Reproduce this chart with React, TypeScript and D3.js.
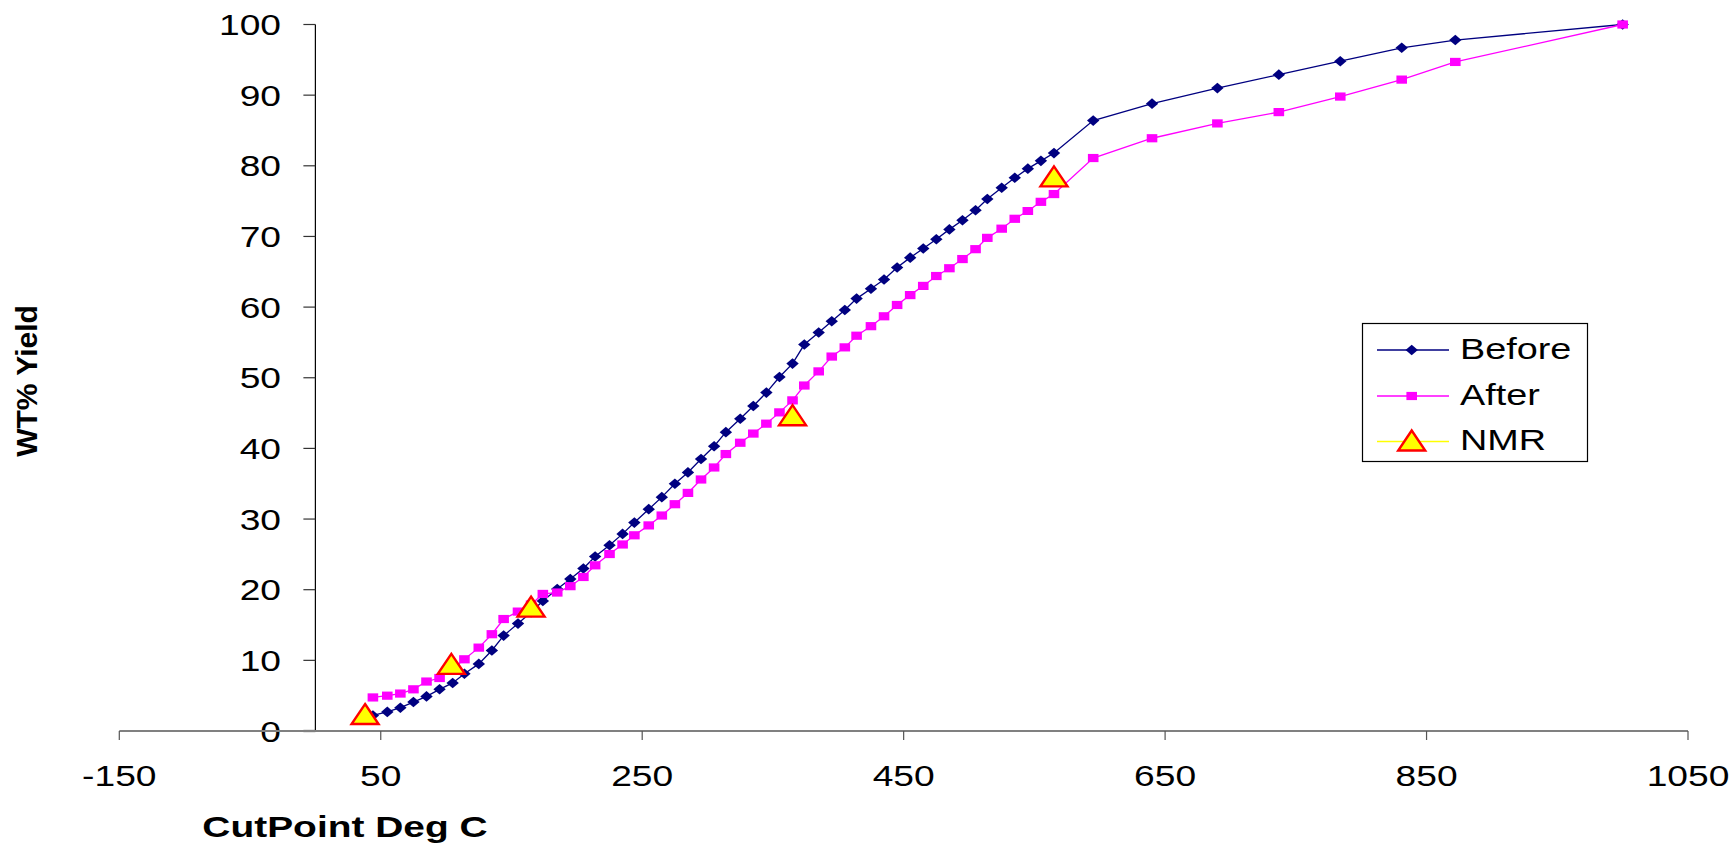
import React from "react";
import * as d3 from "d3";

// Cut points (deg C) shared by the Before / After distillation curves
const cutPoints = [
  44, 55, 65, 75, 85, 95, 105, 114, 125, 135, 144, 155, 165, 174, 185, 195, 205, 214,
  225, 235, 244, 255, 265, 275, 285, 295, 305, 314, 325, 335, 345, 355, 365, 374, 385,
  395, 405, 414, 425, 435, 445, 455, 465, 475, 485, 495, 505, 514, 525, 535, 545, 555,
  565, 595, 640, 690, 737, 784, 831, 872, 1000,
];

const beforeYield = [
  2.2, 2.7, 3.3, 4.1, 4.9, 5.9, 6.8, 8.1, 9.5, 11.4, 13.5, 15.2, 16.8, 18.4, 20.1, 21.5,
  23.0, 24.7, 26.3, 27.9, 29.5, 31.4, 33.1, 35.0, 36.6, 38.5, 40.3, 42.3, 44.2, 46.0, 47.9,
  50.1, 52.0, 54.7, 56.4, 58.0, 59.6, 61.2, 62.6, 63.9, 65.6, 67.0, 68.3, 69.6, 71.0, 72.3,
  73.7, 75.3, 76.9, 78.3, 79.6, 80.7, 81.8, 86.4, 88.8, 91.0, 92.9, 94.8, 96.7, 97.8, 100,
];

const afterYield = [
  4.75, 5.0, 5.3, 5.9, 7.0, 7.5, 8.8, 10.15, 11.8, 13.7, 15.85, 16.9, 17.9, 19.4, 19.6,
  20.5, 21.8, 23.45, 25.05, 26.4, 27.7, 29.1, 30.5, 32.1, 33.7, 35.6, 37.3, 39.2, 40.8, 42.1,
  43.5, 45.1, 46.8, 48.9, 50.9, 53.0, 54.3, 55.95, 57.3, 58.7, 60.3, 61.7, 63.0, 64.4, 65.5,
  66.8, 68.2, 69.8, 71.1, 72.5, 73.6, 74.9, 76.0, 81.1, 83.9, 86.0, 87.6, 89.8, 92.2, 94.7, 100,
];

const nmrCutPoints = [38, 104, 165, 365, 565];
const nmrYield = [2.4, 9.5, 17.6, 44.7, 78.5];

const xTicks = [-150, 50, 250, 450, 650, 850, 1050];
const yTicks = [0, 10, 20, 30, 40, 50, 60, 70, 80, 90, 100];

const seriesNames = ["Before", "After", "NMR"];

const W = 1735;
const H = 845;
const FONT = "'Liberation Sans', Arial, Helvetica, sans-serif";
const NAVY = "#000080";
const MAGENTA = "#FF00FF";
const TEXT_STRETCH = 1.26;

const x = d3.scaleLinear().domain([-150, 1050]).range([119.3, 1688]);
const y = d3.scaleLinear().domain([0, 100]).range([731, 24.5]);

type Pt = [number, number];
const beforePts: Pt[] = cutPoints.map((c, i) => [c, beforeYield[i]]);
const afterPts: Pt[] = cutPoints.map((c, i) => [c, afterYield[i]]);
const nmrPts: Pt[] = nmrCutPoints.map((c, i) => [c, nmrYield[i]]);

const line = d3
  .line<Pt>()
  .x((d) => x(d[0]))
  .y((d) => y(d[1]));

// marker outlines, centred on the data point
const diamond = (cx: number, cy: number) =>
  `M${cx},${cy - 5.3}L${cx + 6.2},${cy}L${cx},${cy + 5.3}L${cx - 6.2},${cy}Z`;
const square = (cx: number, cy: number) =>
  `M${cx - 5.3},${cy - 4.1}h10.6v8.2h-10.6Z`;
const triangle = (cx: number, cy: number) =>
  `M${cx},${cy - 10}L${cx + 13.5},${cy + 10}L${cx - 13.5},${cy + 10}Z`;

function SText(props: {
  x: number;
  y: number;
  anchor?: "start" | "middle" | "end";
  size?: number;
  weight?: string;
  sx?: number;
  children: React.ReactNode;
}) {
  const { x: tx, y: ty, anchor = "start", size = 29.5, weight = "normal", sx = TEXT_STRETCH } = props;
  return (
    <text
      transform={`translate(${tx},${ty}) scale(${sx},1)`}
      textAnchor={anchor}
      fontFamily={FONT}
      fontSize={size}
      fontWeight={weight}
      fill="#000"
    >
      {props.children}
    </text>
  );
}

export default function App() {
  const x0 = x(0);
  const legendX = 1362.5;
  const legendY = 323.5;
  const legendRows = [350, 396, 441.5];

  return (
    <svg
      width={W}
      height={H}
      style={{ position: "absolute", left: 0, top: 0, background: "#fff" }}
    >
      <rect width={W} height={H} fill="#fff" />

      {/* value axis crossing at 0 deg C */}
      <line x1={x0} x2={x0} y1={y(100)} y2={y(0)} stroke="#000" strokeWidth={1.2} />
      {yTicks.map((t) => (
        <g key={t}>
          <line
            x1={x0 - 12}
            x2={x0}
            y1={y(t)}
            y2={y(t)}
            stroke={t === 0 ? "#000" : "#333"}
            strokeWidth={t === 0 ? 2.2 : 1.2}
          />
          <SText x={281} y={y(t) + 10.5} anchor="end">
            {t}
          </SText>
        </g>
      ))}

      {/* category axis */}
      <line x1={x(-150)} x2={x(1050)} y1={y(0)} y2={y(0)} stroke="#808080" strokeWidth={2} />
      {xTicks.map((t) => (
        <g key={t}>
          <line x1={x(t)} x2={x(t)} y1={y(0)} y2={y(0) + 9} stroke="#555" strokeWidth={1.2} />
          <SText x={x(t)} y={785.5} anchor="middle">
            {t}
          </SText>
        </g>
      ))}

      {/* axis titles */}
      <SText x={345} y={837} anchor="middle" weight="bold" size={29.5} sx={1.32}>
        CutPoint Deg C
      </SText>
      <text
        transform={`translate(37,381) rotate(-90)`}
        textAnchor="middle"
        fontFamily={FONT}
        fontSize={30}
        fontWeight="bold"
        fill="#000"
      >
        WT% Yield
      </text>

      {/* Before */}
      <path d={line(beforePts) ?? ""} fill="none" stroke={NAVY} strokeWidth={1.3} />
      {beforePts.map((d, i) => (
        <path key={`b${i}`} d={diamond(x(d[0]), y(d[1]))} fill={NAVY} />
      ))}

      {/* After */}
      <path d={line(afterPts) ?? ""} fill="none" stroke={MAGENTA} strokeWidth={1.3} />
      {afterPts.map((d, i) => (
        <path key={`a${i}`} d={square(x(d[0]), y(d[1]))} fill={MAGENTA} />
      ))}

      {/* NMR */}
      {nmrPts.map((d, i) => (
        <path
          key={`n${i}`}
          d={triangle(x(d[0]), y(d[1]))}
          fill="#FFFF00"
          stroke="#FF0000"
          strokeWidth={2.4}
          strokeLinejoin="miter"
        />
      ))}

      {/* legend */}
      <rect
        x={legendX}
        y={legendY}
        width={225}
        height={138}
        fill="#fff"
        stroke="#000"
        strokeWidth={1.2}
      />
      {seriesNames.map((name, i) => {
        const ly = legendRows[i];
        const color = i === 0 ? NAVY : i === 1 ? MAGENTA : "#FFFF00";
        return (
          <g key={name}>
            <line x1={1377} x2={1449} y1={ly} y2={ly} stroke={color} strokeWidth={1.3} />
            {i === 0 && <path d={diamond(1411.7, ly)} fill={NAVY} />}
            {i === 1 && <path d={square(1411.7, ly)} fill={MAGENTA} />}
            {i === 2 && (
              <path
                d={triangle(1411.7, ly - 1)}
                fill="#FFFF00"
                stroke="#FF0000"
                strokeWidth={2.4}
              />
            )}
            <SText x={1460} y={ly + 8.5} size={30}>
              {name}
            </SText>
          </g>
        );
      })}
    </svg>
  );
}
